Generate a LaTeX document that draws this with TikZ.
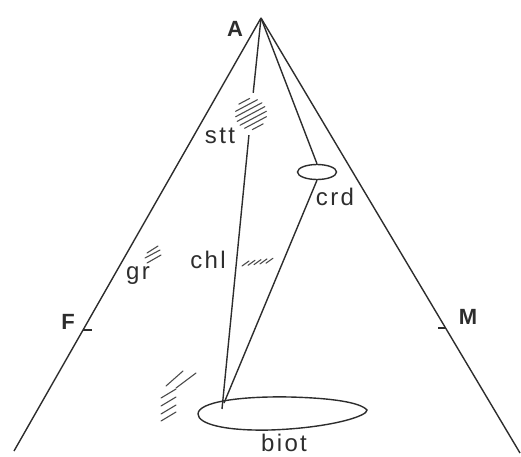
\documentclass[tikz,border=0pt]{standalone}
\usepackage{fontspec}
\setmainfont{Liberation Sans}
\newfontfamily\labelfont[LetterSpace=10]{Liberation Sans}
\usepackage{xcolor}
\definecolor{inkgray}{RGB}{45,45,45}
\usetikzlibrary{shapes.geometric, calc}

\begin{document}
\begin{tikzpicture}[x=1pt, y=-1pt,
        axis/.style={draw=inkgray, line width=1.4pt},
        hatch/.style={draw=inkgray!85, line width=1.1pt, line cap=round},
        lbl/.style={text=inkgray, font=\labelfont\fontsize{24}{26}\selectfont, inner sep=0pt},
        corner/.style={text=inkgray, font=\labelfont\bfseries\fontsize{22}{26}\selectfont, inner sep=0pt}]

    \useasboundingbox (0,0) rectangle (521,456);

    % apex and outer sides
    \coordinate (A) at (261,18);
    \coordinate (Fend) at (14,451);
    \coordinate (Mend) at (520,453);
    \coordinate (Ftick) at ($(A)!0.7206!(Fend)$);
    \coordinate (Mtick) at ($(A)!0.7126!(Mend)$);
    \coordinate (foot) at (222,409);
    \coordinate (crdfoot) at (224,403);

    \node [corner] (Alab) at (235,29) {A};
    \node [corner] (Flab) at (68,322) {F};
    \node [corner] (Mlab) at (468,317) {M};

    \node [lbl] (sttlab) at (220,136) {stt};
    \node [lbl] (crdlab) at (335,197) {crd};
    \node [lbl] (chllab) at (208,260) {chl};
    \node [lbl] (grlab) at (138,276) {gr};
    \node [lbl] (biotlab) at (284,443) {biot};

    \node [ellipse, draw=inkgray, line width=1.4pt, minimum width=39, minimum height=15, inner sep=0pt] (crd) at (317,172) {};
    \node [circle, minimum size=42, inner sep=0pt] (sttpatch) at (251,114) {};

    \draw [axis] (A) -- (Fend);
    \draw [axis] (A) -- (Mend);
    \draw [axis] (Ftick) -- ++(9,0);
    \draw [axis] (Mtick) -- ++(-8,0);

    \draw [axis] (A) -- (sttpatch);
    \draw [axis] (sttpatch) -- (foot);
    \draw [axis] (A) -- (crd.north);
    \draw [axis] (crd.south) -- (crdfoot);

    % biot
    \draw [axis] (198,414) .. controls (198,402) and (240,396) .. (290,397)
        .. controls (330,398) and (360,402) .. (367,410)
        .. controls (368,416) and (330,428) .. (270,430)
        .. controls (225,431) and (198,424) .. (198,414) -- cycle;

    % hatching
    \foreach \d in {-14.4,-9.6,-4.8,0,4.8,9.6,14.4}{
        \pgfmathsetmacro{\l}{sqrt(245-\d*\d)}
        \draw [hatch] ($(sttpatch)+({0.469*\d-0.883*\l},{0.883*\d+0.469*\l})$) -- ($(sttpatch)+({0.469*\d+0.883*\l},{0.883*\d-0.469*\l})$);
    }
    \foreach \i in {0,...,4}
        \draw [hatch] ({242+6*\i},{266-0.7*\i}) -- ++(7,-5);
    \draw [hatch] (147,253) -- (158,246);
    \draw [hatch] (145,258) -- (160,250);
    \draw [hatch] (147,263) -- (161,255);
    \draw [hatch] (166,386) -- (183,371);
    \draw [hatch] (176,388) -- (196,373);
    \foreach \y in {398,406,414,421}
        \draw [hatch] (161,\y) -- ++(15,-9);
\end{tikzpicture}
\end{document}
